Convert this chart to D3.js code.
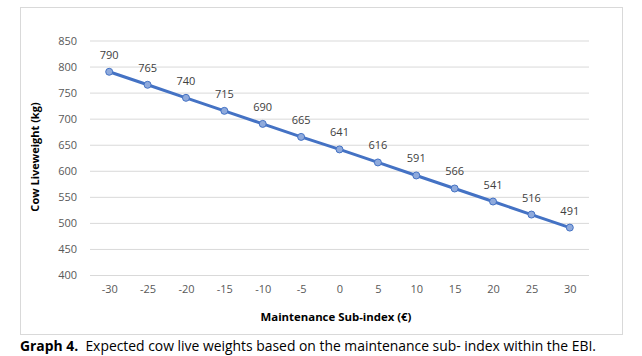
<!DOCTYPE html>
<html><head><meta charset="utf-8">
<script src="https://cdn.jsdelivr.net/npm/d3@7"></script>
<style>body{margin:0;background:#fff}svg{display:block}</style>
</head><body><svg id="c" width="642" height="356"></svg>
<script>
const categories = ["-30","-25","-20","-15","-10","-5","0","5","10","15","20","25","30"];
const weights = [790,765,740,715,690,665,641,616,591,566,541,516,491];
const yTicks = [400,450,500,550,600,650,700,750,800,850];
const xTitle = "Maintenance Sub-index (€)";
const yTitle = "Cow Liveweight (kg)";
const captionBold = "Graph 4.";
const captionText = "  Expected cow live weights based on the maintenance sub- index within the EBI.";

const svg = d3.select("#c");
const font = "'Open Sans', 'Noto Sans', sans-serif";
svg.append("rect").attr("x",20.5).attr("y",7.5).attr("width",602).attr("height",327)
  .attr("fill","#fff").attr("stroke","#d9d9d9");

const x = d3.scalePoint().domain(categories).range([90,589]).padding(0.5);
const y = d3.scaleLinear().domain([400,850]).range([275,40.5]);

const gy = svg.append("g").attr("transform","translate(90,0)")
  .call(d3.axisLeft(y).tickValues(yTicks).tickSize(-499).tickPadding(13));
gy.select(".domain").remove();
gy.selectAll(".tick line").attr("stroke","#d9d9d9");
gy.selectAll(".tick text").attr("fill","#595959").style("font-family",font).style("font-size","11px");

const gx = svg.append("g").attr("transform","translate(0,275)")
  .call(d3.axisBottom(x).tickSize(0).tickPadding(10));
gx.select(".domain").remove();
gx.selectAll(".tick text").attr("fill","#595959").style("font-family",font).style("font-size","11px");

const line = d3.line().x((d,i)=>x(categories[i])).y(d=>y(d));
svg.append("path").datum(weights).attr("d",line).attr("fill","none")
  .attr("stroke","#4472C4").attr("stroke-width",3);
svg.selectAll("circle.pt").data(weights).enter().append("circle")
  .attr("cx",(d,i)=>x(categories[i])).attr("cy",d=>y(d)).attr("r",3.5)
  .attr("fill","#8FAADC").attr("stroke","#4472C4").attr("stroke-width",1);
svg.selectAll("text.lbl").data(weights).enter().append("text")
  .attr("x",(d,i)=>x(categories[i])).attr("y",d=>y(d)-13)
  .attr("text-anchor","middle").attr("fill","#404040")
  .style("font-family",font).style("font-size","11px").text(d=>d);

svg.append("text").attr("x",336).attr("y",321).attr("text-anchor","middle")
  .style("font-family",font).style("font-size","11.4px").style("font-weight","bold")
  .attr("fill","#000").text(xTitle);
svg.append("text").attr("transform","translate(39,157) rotate(-90)").attr("text-anchor","middle")
  .style("font-family",font).style("font-size","11px").style("font-weight","bold")
  .attr("fill","#000").text(yTitle);

const cap = svg.append("text").attr("x",20).attr("y",351)
  .style("font-family",font).style("font-size","13.9px").attr("fill","#000").attr("xml:space","preserve");
cap.append("tspan").style("font-weight","bold").text(captionBold);
cap.append("tspan").text(captionText);
</script></body></html>
